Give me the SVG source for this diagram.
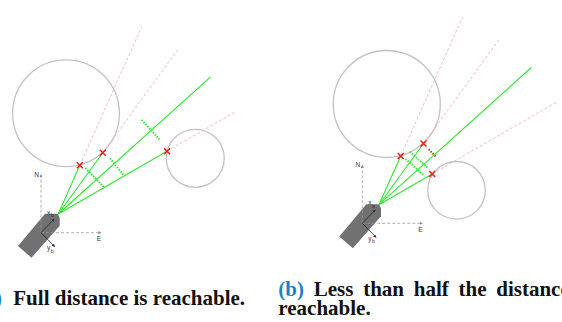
<svg xmlns="http://www.w3.org/2000/svg" xmlns:xlink="http://www.w3.org/1999/xlink" width="562" height="322" viewBox="0 0 562 322">
<style>
.obs{fill:none;stroke:#c4c2c2;stroke-width:1.3}
.ray{stroke:#2ee62e;stroke-width:1.1;fill:none}
.ghost{stroke:#f6a8a8;stroke-width:0.8;stroke-dasharray:3 2;fill:none}
.dotg{stroke:#2ee62e;stroke-width:2;stroke-dasharray:1.4 1.4;fill:none}
.dotr{stroke:#ee2222;stroke-width:2;stroke-dasharray:1.4 1.4;fill:none}
.hit{stroke:#ee1c1c;stroke-width:1.5;fill:none}
.axis{stroke:#999;stroke-width:0.8;stroke-dasharray:3 2;fill:none}
.vec{stroke:#222;stroke-width:0.8;fill:none}
.lbl{font-family:"Liberation Sans",Arial,sans-serif;font-size:6.5px;fill:#333}
.sub{font-family:"Liberation Sans",Arial,sans-serif;font-size:5px;fill:#333}
.cap{font-family:"Liberation Serif","Times New Roman",serif;font-size:21px;font-weight:bold;fill:#111}
.blue{fill:#1f7fc4}
</style>
<defs>
<marker id="ah" viewBox="0 0 6 6" refX="5" refY="3" markerWidth="4" markerHeight="4" orient="auto">
<path d="M0,0 L6,3 L0,6 z" fill="#333"/>
</marker>
<marker id="ahg" viewBox="0 0 6 6" refX="5" refY="3" markerWidth="4" markerHeight="4" orient="auto">
<path d="M0,0 L6,3 L0,6 z" fill="#888"/>
</marker>
<g id="boat">
<polygon points="4,-19 16.5,-19 18.7,-15.3 18.7,-7 -9.5,25 -23,13.3" fill="#717171"/>
<line class="axis" x1="0" y1="0" x2="0" y2="-58" marker-end="url(#ahg)"/>
<line class="axis" x1="0" y1="0" x2="60" y2="0" marker-end="url(#ahg)"/>
<line class="vec" x1="0" y1="0" x2="13" y2="-13.5" marker-end="url(#ah)"/>
<line class="vec" x1="0" y1="0" x2="13.7" y2="14" marker-end="url(#ah)"/>
<text class="lbl" x="-2" y="-56" text-anchor="end">N</text>
<text class="lbl" x="58" y="8.8" text-anchor="middle">E</text>
<text class="lbl" x="6" y="-18">x</text><text class="sub" x="9.8" y="-15.6">b</text>
<text class="lbl" x="6" y="17.5">y</text><text class="sub" x="9.8" y="20">b</text>
</g>
<path id="xm" d="M-3,-3 L3,3 M-3,3 L3,-3"/>
</defs>

<g id="panel-a">
<g id="obstacles-a">
<circle class="obs" cx="66" cy="113.3" r="53.4"/>
<circle class="obs" cx="195.3" cy="158.3" r="29"/>
</g>
<g id="boat-a"><use xlink:href="#boat" href="#boat" transform="translate(41,232.7)"/></g>
<g id="connectors-a">
<line class="ghost" x1="79.8" y1="165.3" x2="141.7" y2="26.7"/>
<line class="ghost" x1="102.8" y1="152.8" x2="178.8" y2="48.2"/>
<line class="ghost" x1="167" y1="151.2" x2="235.8" y2="111.5"/>
<line class="ray" x1="58.3" y1="214" x2="79.8" y2="165.3"/>
<line class="ray" x1="58.3" y1="214" x2="102.8" y2="152.8"/>
<line class="ray" x1="58.3" y1="214" x2="210.6" y2="76.8"/>
<line class="ray" x1="58.3" y1="214" x2="167" y2="151.2"/>
<line class="dotg" x1="85.3" y1="168" x2="104.3" y2="187.5"/>
<line class="dotg" x1="110" y1="158.3" x2="124.3" y2="176"/>
<line class="dotg" x1="141.7" y1="119.8" x2="159.3" y2="139.3"/>
<use class="hit" xlink:href="#xm" href="#xm" transform="translate(79.8,165.3)"/>
<use class="hit" xlink:href="#xm" href="#xm" transform="translate(102.8,152.8)"/>
<use class="hit" xlink:href="#xm" href="#xm" transform="translate(167,151.2)"/>
</g>
</g>

<g id="panel-b">
<g id="obstacles-b">
<circle class="obs" cx="386.8" cy="104" r="53.5"/>
<circle class="obs" cx="456.5" cy="190.3" r="28.8"/>
</g>
<g id="boat-b"><use xlink:href="#boat" href="#boat" transform="translate(362.3,223.3)"/></g>
<g id="connectors-b">
<line class="ghost" x1="400.7" y1="156" x2="462.4" y2="17.4"/>
<line class="ghost" x1="423.5" y1="143.5" x2="499.5" y2="38.9"/>
<line class="ghost" x1="432.2" y1="174" x2="556.5" y2="102.2"/>
<line class="ray" x1="379" y1="204.7" x2="400.7" y2="156"/>
<line class="ray" x1="379" y1="204.7" x2="423.5" y2="143.5"/>
<line class="ray" x1="379" y1="204.7" x2="531.3" y2="67.5"/>
<line class="ray" x1="379" y1="204.7" x2="432.2" y2="174"/>
<line class="dotg" x1="409.7" y1="151.7" x2="427.3" y2="167.5"/>
<line class="dotg" x1="405.5" y1="159" x2="424" y2="175.5"/>
<line class="dotr" x1="428.7" y1="149.3" x2="436.5" y2="157"/>
<use class="hit" xlink:href="#xm" href="#xm" transform="translate(400.7,156)"/>
<use class="hit" xlink:href="#xm" href="#xm" transform="translate(423.5,143.5)"/>
<use class="hit" xlink:href="#xm" href="#xm" transform="translate(432.2,174)"/>
</g>
</g>

<g id="captions">
<text class="cap" x="2" y="305" text-anchor="end"><tspan class="blue">(a)</tspan></text>
<text class="cap" x="13.3" y="305">Full distance is reachable.</text>
<text class="cap" x="278.3" y="296.2" word-spacing="4.5"><tspan class="blue">(b)</tspan> Less than half the distance</text>
<text class="cap" x="278.3" y="314.6">reachable.</text>
</g>
</svg>
